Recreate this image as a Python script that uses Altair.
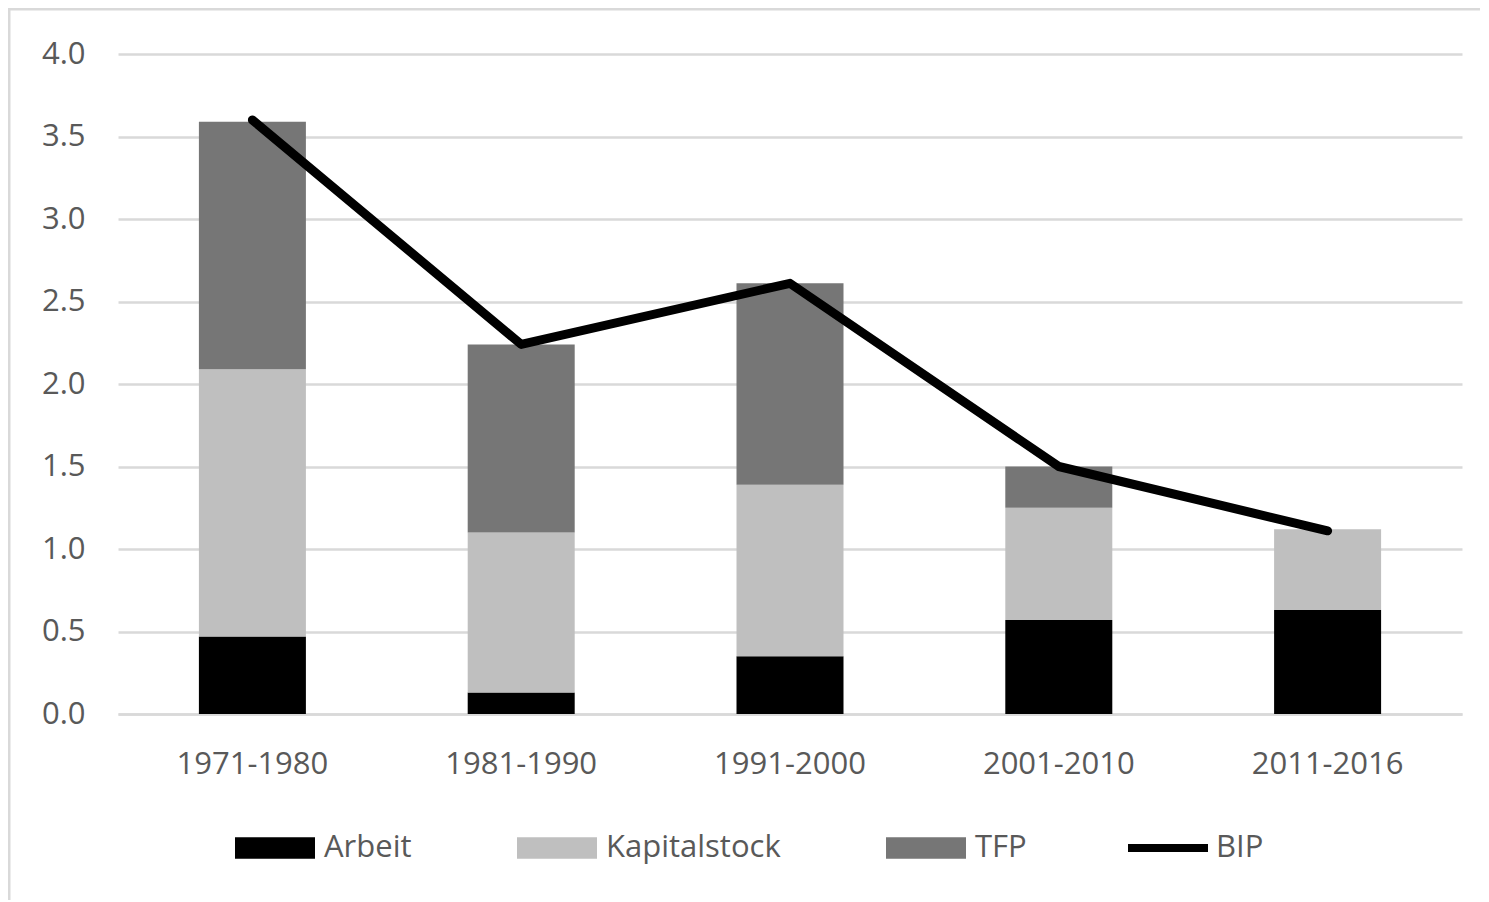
import altair as alt
import pandas as pd

periods = ["1971-1980", "1981-1990", "1991-2000", "2001-2010", "2011-2016"]
arbeit = [0.47, 0.13, 0.35, 0.57, 0.63]
kapital = [1.62, 0.97, 1.04, 0.68, 0.49]
tfp = [1.50, 1.14, 1.22, 0.25, 0.0]
bip = [3.60, 2.24, 2.61, 1.50, 1.11]

bar_names = ["Arbeit", "Kapitalstock", "TFP"]
bar_colors = ["#000000", "#bfbfbf", "#767676"]

rows = []
for i, p in enumerate(periods):
    for k, (name, vals) in enumerate(zip(bar_names, [arbeit, kapital, tfp])):
        rows.append({"period": p, "series": name, "value": vals[i], "ord": k})
bars_df = pd.DataFrame(rows)
line_df = pd.DataFrame({"period": periods, "value": bip, "line": ["BIP"] * len(periods)})

FONT = "Open Sans"
LABEL = "#595959"
W, H = 1344, 660
PAD = {"left": 110, "top": 46, "right": 18, "bottom": 186}

x_enc = alt.X("period:N", sort=periods, title=None,
              scale=alt.Scale(paddingInner=0.6, paddingOuter=0.3),
              axis=alt.Axis(labelAngle=0, labelFontSize=31, labelColor=LABEL, labelFont=FONT,
                            labelPadding=35, ticks=False, domainColor="#d9d9d9", domainWidth=2.5,
                            grid=False))
y_scale = alt.Scale(domain=[0, 4])

fill = alt.Fill("series:N", title=None,
                scale=alt.Scale(domain=bar_names, range=bar_colors),
                legend=alt.Legend(orient="none", direction="horizontal", legendX=117, legendY=754,
                                  labelFontSize=31, labelColor=LABEL, labelFont=FONT, labelLimit=400,
                                  symbolSize=6400, columnPadding=105, labelOffset=9,
                                  symbolType="M-1,-0.27H1V0.27H-1Z", symbolStrokeWidth=0,
                                  symbolOpacity=1))

bars = alt.Chart(bars_df).mark_bar(size=107).encode(
    x=x_enc,
    y=alt.Y("value:Q", stack="zero", scale=y_scale, title=None,
            axis=alt.Axis(values=[0, 0.5, 1, 1.5, 2, 2.5, 3, 3.5, 4], format=".1f",
                          labelFontSize=31, labelColor=LABEL, labelFont=FONT, labelPadding=33,
                          ticks=False, domain=False, gridColor="#d9d9d9", gridWidth=2.5)),
    fill=fill,
    order=alt.Order("ord:Q"),
)

line = alt.Chart(line_df).mark_line(strokeWidth=9, strokeCap="round", strokeJoin="round").encode(
    x=alt.X("period:N", sort=periods),
    y=alt.Y("value:Q", scale=y_scale),
    stroke=alt.Stroke("line:N", title=None,
                      scale=alt.Scale(domain=["BIP"], range=["#000000"]),
                      legend=alt.Legend(orient="none", direction="horizontal", legendX=1006, legendY=750,
                                        labelFontSize=31, labelColor=LABEL, labelFont=FONT,
                                        symbolSize=6400, labelOffset=4, symbolType="stroke",
                                        symbolStrokeWidth=8, symbolStrokeColor="#000000")),
)

one = pd.DataFrame({"a": [0]})
frame_top = alt.Chart(one).mark_rule(stroke="#d9d9d9", strokeWidth=3).encode(
    x=alt.value(-PAD["left"] - 2), x2=alt.value(W + PAD["right"] + 5), y=alt.value(-PAD["top"] + 1))
frame_left = alt.Chart(one).mark_rule(stroke="#d9d9d9", strokeWidth=3).encode(
    x=alt.value(-PAD["left"] + 1), y=alt.value(-PAD["top"]), y2=alt.value(H + PAD["bottom"] + 5))

chart = alt.layer(frame_top, frame_left, bars, line).resolve_scale(
    fill="independent", stroke="independent"
).properties(
    width=W, height=H,
    autosize=alt.AutoSizeParams(type="none"),
    padding=PAD,
    view=alt.ViewBackground(strokeWidth=0, stroke="transparent"),
).configure_view(strokeWidth=0, stroke="transparent").configure(font=FONT)

chart.save("out.html", embed_options={"renderer": "svg", "actions": False})
